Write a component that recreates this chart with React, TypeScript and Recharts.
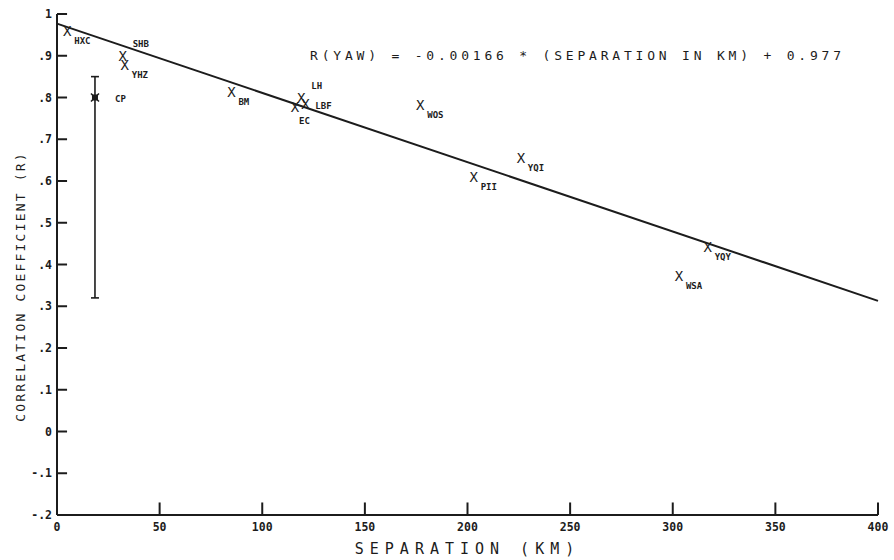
import React from "react";
import {
  ComposedChart,
  Scatter,
  XAxis,
  YAxis,
  ReferenceLine,
  ErrorBar,
} from "recharts";

// station separations (km) and yaw correlation coefficients
const stations = ["HXC", "SHB", "YHZ", "BM", "LH", "LBF", "EC", "WOS", "PII", "YQI", "YQY", "WSA"];
const separationKm = [5, 32, 33, 85, 119, 121, 116, 177, 203, 226, 317, 303];
const correlation = [0.96, 0.9, 0.878, 0.814, 0.8, 0.785, 0.778, 0.782, 0.61, 0.655, 0.442, 0.372];

// CP station, plotted with its error bar
const cpSeparation = 18.5;
const cpCorrelation = 0.8;
const cpLow = 0.32;
const cpHigh = 0.85;

// regression end points (from the printed fit)
const fitStart = { km: 0, r: 0.977 };
const fitEnd = { km: 400, r: 0.313 };

const xTicks = [0, 50, 100, 150, 200, 250, 300, 350, 400];
const yTicks = [-0.2, -0.1, 0, 0.1, 0.2, 0.3, 0.4, 0.5, 0.6, 0.7, 0.8, 0.9, 1];

const X_MIN = 0;
const X_MAX = 400;
const Y_MIN = -0.2;
const Y_MAX = 1;

// inward tick lengths, in axis units (~10-12px)
const Y_TICK_LEN = 4.9;
const X_TICK_LEN = 0.03;

// where each station's name sits relative to its mark
const labelSide: Record<string, string> = {
  SHB: "above",
  LH: "above",
  EC: "below",
  LBF: "right",
};

const INK = "#1c1c1c";
const FONT = "'DejaVu Sans Mono', monospace";

const fmtY = (v: number) => {
  if (Math.abs(v) < 1e-9) return "0";
  if (v === 1) return "1";
  return v.toFixed(1).replace("0.", ".");
};

const tickFont = { fontSize: 11.5, fontWeight: "bold", fontFamily: FONT, fill: INK };

const StationMark = (props: any) => {
  const { cx, cy, payload } = props;
  const side = labelSide[payload.name] || "sub";
  let lx = cx + 7;
  let ly = cy + 13;
  if (side === "above") {
    lx = cx + 10;
    ly = cy - 9;
  } else if (side === "below") {
    lx = cx + 4;
    ly = cy + 17;
  } else if (side === "right") {
    lx = cx + 10;
    ly = cy + 5;
  }
  return (
    <g>
      <text x={cx} y={cy + 5} textAnchor="middle" fontSize={14} fontFamily={FONT} fill={INK}>
        X
      </text>
      <text x={lx} y={ly} fontSize={9} fontWeight="bold" fontFamily={FONT} fill={INK}>
        {payload.name}
      </text>
    </g>
  );
};

const CpMark = (props: any) => {
  const { cx, cy, payload } = props;
  return (
    <g>
      <rect x={cx - 3} y={cy - 3} width={6} height={6} fill={INK} />
      <line x1={cx - 4} x2={cx + 4} y1={cy - 4} y2={cy + 4} stroke={INK} strokeWidth={1.5} />
      <line x1={cx - 4} x2={cx + 4} y1={cy + 4} y2={cy - 4} stroke={INK} strokeWidth={1.5} />
      <text x={cx + 20} y={cy + 4} fontSize={9} fontWeight="bold" fontFamily={FONT} fill={INK}>
        {payload.name}
      </text>
    </g>
  );
};

export default function App() {
  const points = stations.map((name, i) => ({
    name,
    km: separationKm[i],
    r: correlation[i],
  }));
  const cp = [
    {
      name: "CP",
      km: cpSeparation,
      r: cpCorrelation,
      err: [cpCorrelation - cpLow, cpHigh - cpCorrelation],
    },
  ];

  return (
    <div style={{ position: "absolute", left: 0, top: 0, width: 894, height: 560, background: "#fff" }}>
      <ComposedChart width={894} height={560} margin={{ top: 14, right: 16, bottom: 5, left: 0 }}>
        <XAxis
          type="number"
          dataKey="km"
          domain={[X_MIN, X_MAX]}
          ticks={xTicks}
          tickSize={0}
          tickMargin={8}
          tick={tickFont}
          tickLine={false}
          height={40}
          stroke={INK}
          strokeWidth={2}
          allowDataOverflow
          label={{
            content: (p: any) => {
              const vb = p.viewBox;
              return (
                <text
                  x={vb.x + vb.width / 2}
                  y={vb.y + 39}
                  textAnchor="middle"
                  fontSize={15}
                  letterSpacing={6}
                  fontFamily={FONT}
                  fill={INK}
                >
                  SEPARATION  (KM)
                </text>
              );
            },
          }}
        />
        <YAxis
          type="number"
          dataKey="r"
          domain={[Y_MIN, Y_MAX]}
          ticks={yTicks}
          tickFormatter={fmtY}
          tickSize={0}
          tickMargin={5}
          tick={tickFont}
          tickLine={false}
          width={57}
          stroke={INK}
          strokeWidth={2}
          allowDataOverflow
          label={{
            content: (p: any) => {
              const vb = p.viewBox;
              const cx = 20;
              const cy = vb.y + vb.height / 2 + 22;
              return (
                <text
                  x={cx}
                  y={cy}
                  transform={`rotate(-90 ${cx} ${cy})`}
                  textAnchor="middle"
                  dominantBaseline="central"
                  fontSize={13}
                  letterSpacing={2.2}
                  fontFamily={FONT}
                  fill={INK}
                >
                  CORRELATION COEFFICIENT (R)
                </text>
              );
            },
          }}
        />
        {yTicks.map((v) => (
          <ReferenceLine
            key={`yt-${v}`}
            segment={[
              { x: X_MIN, y: v },
              { x: X_MIN + Y_TICK_LEN, y: v },
            ]}
            stroke={INK}
            strokeWidth={2}
          />
        ))}
        {xTicks.map((v) => (
          <ReferenceLine
            key={`xt-${v}`}
            segment={[
              { x: v, y: Y_MIN },
              { x: v, y: Y_MIN + X_TICK_LEN },
            ]}
            stroke={INK}
            strokeWidth={2}
          />
        ))}
        <ReferenceLine
          segment={[
            { x: fitStart.km, y: fitStart.r },
            { x: fitEnd.km, y: fitEnd.r },
          ]}
          stroke={INK}
          strokeWidth={2}
        />
        <Scatter data={points} dataKey="r" shape={<StationMark />} isAnimationActive={false} />
        <Scatter data={cp} dataKey="r" shape={<CpMark />} isAnimationActive={false}>
          <ErrorBar dataKey="err" direction="y" width={4} stroke={INK} strokeWidth={1.6} />
        </Scatter>
      </ComposedChart>
      <div
        style={{
          position: "absolute",
          left: 310,
          top: 48,
          fontFamily: FONT,
          fontSize: 13,
          letterSpacing: 3.8,
          color: INK,
          whiteSpace: "pre",
        }}
      >
        R(YAW) = -0.00166 * (SEPARATION IN KM) + 0.977
      </div>
    </div>
  );
}
